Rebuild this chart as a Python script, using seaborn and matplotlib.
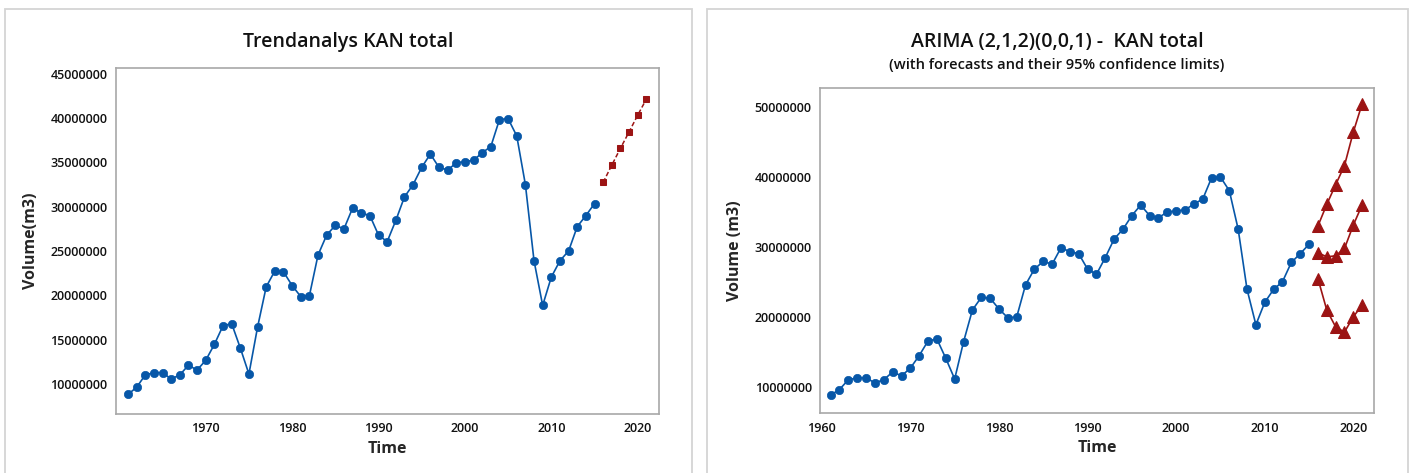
import matplotlib
matplotlib.use("Agg")
import matplotlib.pyplot as plt
from matplotlib.patches import Rectangle
from matplotlib.ticker import FuncFormatter
import seaborn as sns
import pandas as pd

# ---------------- data ----------------
years = list(range(1961, 2016))
volume = [8.8, 9.6, 11.0, 11.25, 11.25, 10.55, 11.0, 12.1, 11.55, 12.65,
          14.45, 16.55, 16.8, 14.05, 11.1, 16.4, 20.95, 22.75, 22.65, 21.1,
          19.85, 19.95, 24.55, 26.8, 27.9, 27.5, 29.85, 29.3, 29.0, 26.8,
          26.05, 28.45, 31.1, 32.5, 34.45, 35.95, 34.45, 34.15, 34.95, 35.1,
          35.25, 36.1, 36.8, 39.85, 39.95, 38.0, 32.5, 23.9, 18.85, 22.05,
          23.9, 25.0, 27.75, 29.0, 30.35]
volume = [v * 1e6 for v in volume]

fc_years = list(range(2016, 2022))
trend_fc = [v * 1e6 for v in [32.75, 34.7, 36.6, 38.45, 40.35, 42.15]]
arima_upper = [v * 1e6 for v in [32.95, 36.05, 38.85, 41.6, 46.4, 50.45]]
arima_fc = [v * 1e6 for v in [29.15, 28.55, 28.7, 29.75, 33.1, 36.0]]
arima_lower = [v * 1e6 for v in [25.45, 20.95, 18.55, 17.8, 20.0, 21.65]]

left_yticks = [10e6, 15e6, 20e6, 25e6, 30e6, 35e6, 40e6, 45e6]
left_xticks = [1970, 1980, 1990, 2000, 2010, 2020]
right_yticks = [10e6, 20e6, 30e6, 40e6, 50e6]
right_xticks = [1960, 1970, 1980, 1990, 2000, 2010, 2020]

hist = pd.DataFrame({"Year": years, "Volume": volume})
trend = pd.DataFrame({"Year": fc_years, "Volume": trend_fc})

# ---------------- style ----------------
sns.set_theme(style="white")
plt.rcParams["font.family"] = ["Open Sans", "DejaVu Sans"]

BLUE = "#0757A8"
RED = "#9C1414"
SPINE = "#A8A8A8"

W, H = 1411, 473
fig = plt.figure(figsize=(W / 100, H / 100), dpi=100)

def fx(px):
    return px / W

def fy(py):
    return 1 - py / H

# panel frames
for x0, x1 in [(5, 691.7), (707.3, 1408.3)]:
    fig.patches.append(Rectangle((fx(x0), -0.05), fx(x1) - fx(x0), fy(9) + 0.05,
                                 transform=fig.transFigure, fill=False,
                                 edgecolor="#D4D4D4", linewidth=1.3))

fmt = FuncFormatter(lambda v, p: f"{int(round(v))}")

def style_axes(ax):
    for s in ax.spines.values():
        s.set_color(SPINE)
        s.set_linewidth(1.2)
    ax.tick_params(axis="both", direction="out", length=4, width=1,
                   color=SPINE, labelsize=9, pad=2, labelcolor="#111111")
    for lab in ax.get_xticklabels() + ax.get_yticklabels():
        lab.set_fontweight("semibold")
    ax.yaxis.set_major_formatter(fmt)

# ---------------- left: trend analysis ----------------
axL = fig.add_axes([fx(115.7), fy(413.7), fx(659.3) - fx(115.7), fy(68.3) - fy(413.7)])
sns.lineplot(data=hist, x="Year", y="Volume", ax=axL, color=BLUE, marker="o",
             markersize=6, markeredgecolor=BLUE, markeredgewidth=0.5, linewidth=1.2)
sns.lineplot(data=trend, x="Year", y="Volume", ax=axL, color=RED, marker="s",
             markersize=4.6, markeredgecolor=RED, linewidth=1.1, dashes=False,
             linestyle=(0, (3, 1.6)))
axL.set_xlim(1959.58, 2022.5)
axL.set_ylim(6.62e6, 45.64e6)
axL.set_xticks(left_xticks)
axL.set_yticks(left_yticks)
axL.set_xlabel("Time", fontsize=11.5, fontweight="bold", labelpad=4)
axL.set_ylabel("Volume(m3)", fontsize=11.5, fontweight="bold", labelpad=8)
style_axes(axL)

fig.text(fx(348.4), fy(41.7), "Trendanalys KAN total", ha="center", va="center",
         fontsize=14, fontweight="semibold", color="#111111")

# ---------------- right: ARIMA ----------------
axR = fig.add_axes([fx(820), fy(413.3), fx(1374) - fx(820), fy(88.3) - fy(413.3)])
sns.lineplot(data=hist, x="Year", y="Volume", ax=axR, color=BLUE, marker="o",
             markersize=6, markeredgecolor=BLUE, markeredgewidth=0.5, linewidth=1.2)
for series in [arima_upper, arima_fc, arima_lower]:
    d = pd.DataFrame({"Year": fc_years, "Volume": series})
    sns.lineplot(data=d, x="Year", y="Volume", ax=axR, color=RED, marker="^",
                 markersize=8, markeredgecolor=RED, linewidth=1.2)
axR.set_xlim(1959.8, 2022.33)
axR.set_ylim(6.2e6, 52.63e6)
axR.set_xticks(right_xticks)
axR.set_yticks(right_yticks)
axR.set_xlabel("Time", fontsize=11.5, fontweight="bold", labelpad=4)
axR.set_ylabel("Volume (m3)", fontsize=11.5, fontweight="bold", labelpad=8)
style_axes(axR)

fig.text(fx(1057), fy(41.7), "ARIMA (2,1,2)(0,0,1) -  KAN total", ha="center",
         va="center", fontsize=14, fontweight="semibold", color="#111111")
fig.text(fx(1057), fy(65), "(with forecasts and their 95% confidence limits)",
         ha="center", va="center", fontsize=10.5, fontweight="semibold", color="#111111")

fig.savefig("out.png", dpi=100)
